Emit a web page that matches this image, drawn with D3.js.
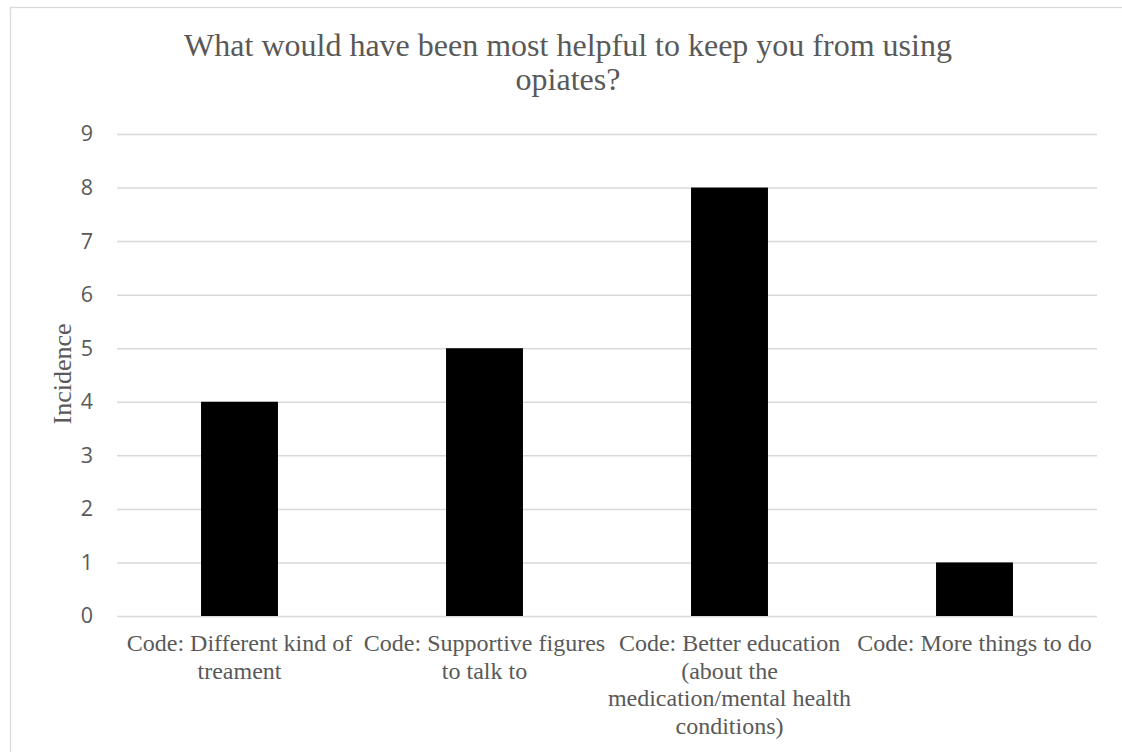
<!DOCTYPE html>
<html>
<head>
<meta charset="utf-8">
<script src="https://cdn.jsdelivr.net/npm/d3@7"></script>
<style>
    body { margin: 0; background: #fff; }
    svg { display: block; }
</style>
</head>
<body>
<div id="chart"></div>
<script>
// chart data
const categories = [
    "Code: Different kind of treament",
    "Code: Supportive figures to talk to",
    "Code: Better education (about the medication/mental health conditions)",
    "Code: More things to do"
];
// wrapped tick labels as shown under each bar
const categoryLines = [
    ["Code: Different kind of", "treament"],
    ["Code: Supportive figures", "to talk to"],
    ["Code: Better education", "(about the", "medication/mental health", "conditions)"],
    ["Code: More things to do"]
];
const incidence = [4, 5, 8, 1];
const yTicks = [0, 1, 2, 3, 4, 5, 6, 7, 8, 9];
const titleLines = ["What would have been most helpful to keep you from using", "opiates?"];

const W = 1122, H = 752;
const margin = { top: 134, right: 25, bottom: 136, left: 117 };
const width = W - margin.left - margin.right;
const height = H - margin.top - margin.bottom;

const textColor = "#595959";
const gridColor = "#d9d9d9";

const root = d3.select("#chart")
    .append("svg")
    .attr("width", W)
    .attr("height", H);

// chart frame
root.append("rect")
    .attr("x", 10.5)
    .attr("y", 7.5)
    .attr("width", W + 10)
    .attr("height", H + 10)
    .attr("fill", "none")
    .attr("stroke", gridColor)
    .attr("stroke-width", 1.3);

// title
root.append("text")
    .attr("x", 568)
    .attr("y", 56)
    .attr("text-anchor", "middle")
    .attr("font-family", "'Liberation Serif', 'Times New Roman', serif")
    .attr("font-size", 32)
    .attr("fill", textColor)
    .selectAll("tspan")
    .data(titleLines)
    .enter()
    .append("tspan")
    .attr("x", 568)
    .attr("dy", (d, i) => (i === 0 ? 0 : 34))
    .text((d) => d);

const svg = root.append("g")
    .attr("transform", `translate(${margin.left},${margin.top})`);

// scales
var x = d3.scaleBand()
    .domain(categories)
    .range([0, width])
    .paddingInner(0.686)
    .paddingOuter(0.343);

var y = d3.scaleLinear().domain([0, 9]).range([height, 0]);

// y axis + grid
var yAxis = svg.append("g")
    .attr("class", "yAxis")
    .call(d3.axisLeft(y).tickValues(yTicks).tickSize(0).tickPadding(24));

yAxis.select(".domain").remove();
yAxis.selectAll(".tick text")
    .attr("fill", textColor)
    .attr("font-family", "'Open Sans', 'Liberation Sans', sans-serif")
    .attr("font-size", 21.5);
yAxis.selectAll(".tick line")
    .attr("x2", width)
    .attr("stroke", gridColor)
    .attr("stroke-width", 1.5);

// bars
svg.selectAll("rect.bar")
    .data(incidence)
    .enter()
    .append("rect")
    .attr("class", "bar")
    .attr("x", (d, i) => x(categories[i]))
    .attr("y", (d) => y(d))
    .attr("width", x.bandwidth())
    .attr("height", (d) => y(0) - y(d))
    .attr("fill", "#000");

// x axis labels
var xAxis = svg.append("g")
    .attr("class", "xAxis")
    .attr("transform", `translate(0,${height})`)
    .call(d3.axisBottom(x).tickSize(0).tickFormat(""));

xAxis.select(".domain").remove();
xAxis.selectAll(".tick").each(function (d, i) {
    var t = d3.select(this).append("text")
        .attr("fill", textColor)
        .attr("text-anchor", "middle")
        .attr("font-family", "'Liberation Serif', 'Times New Roman', serif")
        .attr("font-size", 24)
        .attr("y", 35);
    t.selectAll("tspan")
        .data(categoryLines[i])
        .enter()
        .append("tspan")
        .attr("x", 0)
        .attr("dy", (l, j) => (j === 0 ? 0 : 27.7))
        .text((l) => l);
});

// y axis title
root.append("text")
    .attr("transform", "translate(71,374) rotate(-90)")
    .attr("text-anchor", "middle")
    .attr("font-family", "'Liberation Serif', 'Times New Roman', serif")
    .attr("font-size", 26)
    .attr("fill", textColor)
    .text("Incidence");
</script>
</body>
</html>
